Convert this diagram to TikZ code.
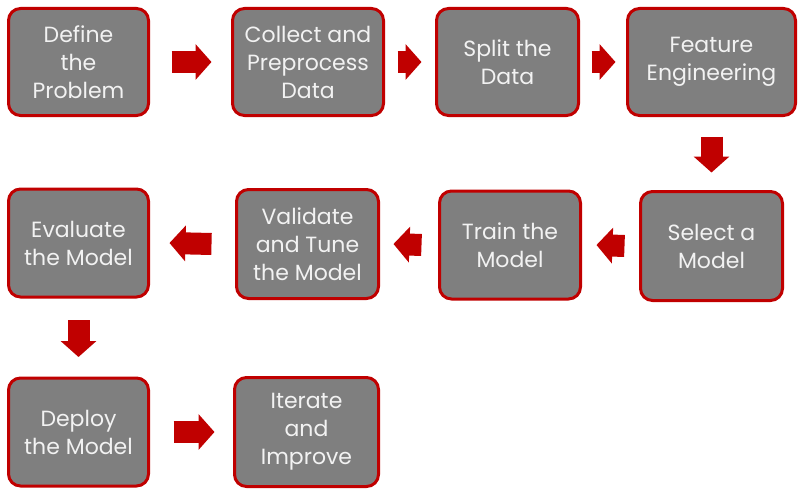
\documentclass[tikz,border=0pt]{standalone}
\usepackage{fontspec}
\setmainfont{Poppins}
\usetikzlibrary{arrows.meta}
\definecolor{boxred}{HTML}{C00000}
\definecolor{boxgray}{HTML}{7F7F7F}
\begin{document}
\begin{tikzpicture}[x=1pt,y=-1pt,
	stepbox/.style={draw=boxred,line width=3pt,fill=boxgray,rounded corners=12pt,
		text=white!95!black,align=center,inner sep=1pt,font=\fontsize{22}{28}\selectfont},
	flow/.style={draw=boxred,line width=22pt,-{Triangle[length=16pt,width=35pt]}}]
	\useasboundingbox (0,0) rectangle (801,495);
	%
	\node[stepbox,minimum width=140pt,minimum height=107pt] (define)   at (78.5,62)  {Define\\the\\Problem};
	\node[stepbox,minimum width=151pt,minimum height=107pt] (collect)  at (308,62)   {Collect and\\Preprocess\\Data};
	\node[stepbox,minimum width=142pt,minimum height=107pt] (split)    at (507.5,62) {Split the\\Data};
	\node[stepbox,minimum width=168pt,minimum height=107pt] (feature)  at (711.5,62) {Feature\\Engineering};
	\node[stepbox,minimum width=142pt,minimum height=109pt] (select)   at (711.5,246){Select a\\Model};
	\node[stepbox,minimum width=141pt,minimum height=108pt] (train)    at (510,245)  {Train the\\Model};
	\node[stepbox,minimum width=142pt,minimum height=109pt] (validate) at (307.5,244){Validate\\and Tune\\the Model};
	\node[stepbox,minimum width=140pt,minimum height=108pt] (evaluate) at (78.5,243) {Evaluate\\the Model};
	\node[stepbox,minimum width=140pt,minimum height=108pt] (deploy)   at (78.5,432) {Deploy\\the Model};
	\node[stepbox,minimum width=144pt,minimum height=109pt] (iterate)  at (306.5,432){Iterate\\and\\Improve};
	%
	\draw[flow] ([xshift=21.5]define.east)   -- ([xshift=-19.5]collect.west);
	\draw[flow] ([xshift=12.5]collect.east)  -- ([xshift=-13.5]split.west);
	\draw[flow] ([xshift=11.5]split.east)    -- ([xshift=-10.5]feature.west);
	\draw[flow] ([yshift=-19.5]feature.south) -- ([yshift=17.5]select.north);
	\draw[flow] ([xshift=-14.5]select.west)  -- ([xshift=14.5]train.east);
	\draw[flow] ([xshift=-16.5]train.west)   -- ([xshift=13.5]validate.east);
	\draw[flow] ([xshift=-23.5]validate.west) -- ([xshift=19.5]evaluate.east);
	\draw[flow] ([yshift=-21.5]evaluate.south) -- ([yshift=19.5]deploy.north);
	\draw[flow] ([xshift=23.5]deploy.east)   -- ([xshift=-18.5]iterate.west);
\end{tikzpicture}
\end{document}
